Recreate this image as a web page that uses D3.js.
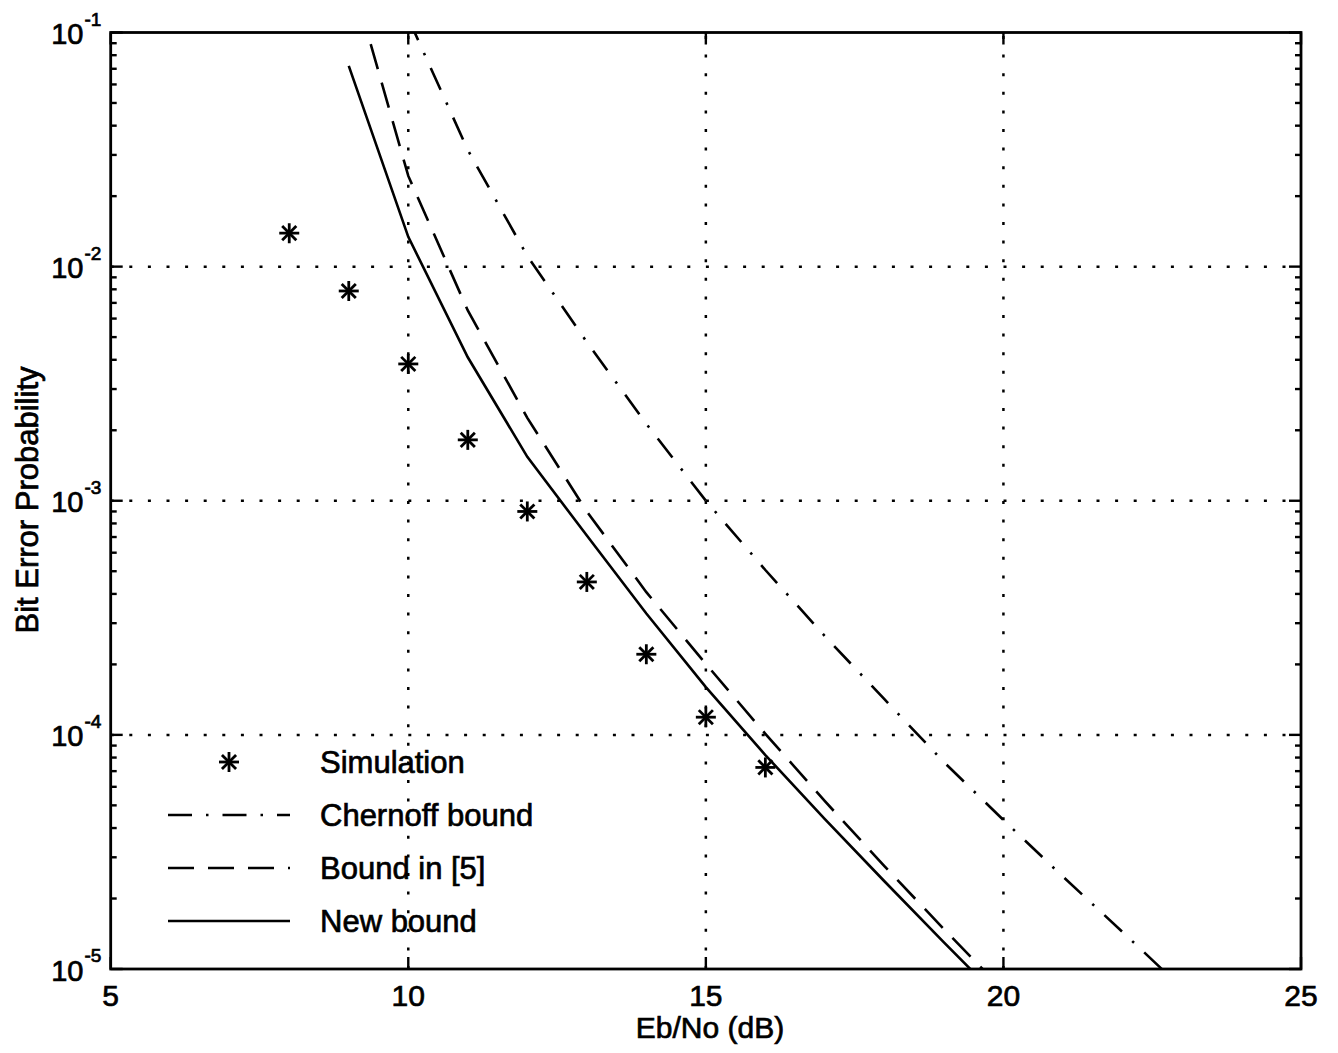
<!DOCTYPE html>
<html>
<head>
<meta charset="utf-8">
<script src="https://cdn.jsdelivr.net/npm/d3@7"></script>
<style>
  html, body { margin: 0; padding: 0; background: #fff; }
  svg { display: block; font-family: "Liberation Sans", Arial, Helvetica, sans-serif; }
  text { stroke: #000; stroke-width: 0.7px; }
</style>
</head>
<body>
<svg id="chart" width="1338" height="1053"></svg>
<script>
// Eb/No sample points (dB)
const simEbNo = [8, 9, 10, 11, 12, 13, 14, 15, 16];
const boundEbNo = [9, 10, 11, 12, 13, 14, 15, 16, 17, 18, 19, 20];
const chernoffEbNo = [10, 11, 12, 13, 14, 15, 16, 17, 18, 19, 20, 21, 22, 23];

// Bit error probabilities
const simulationBER = [1.39e-2, 7.87e-3, 3.84e-3, 1.82e-3, 9.0e-4, 4.5e-4, 2.21e-4, 1.19e-4, 7.26e-5];
const newBoundBER = [7.2e-2, 1.34e-2, 4.1e-3, 1.54e-3, 7.1e-4, 3.3e-4, 1.6e-4, 8.2e-5, 4.37e-5, 2.37e-5, 1.30e-5, 7.2e-6];
const bound5BER = [1.9e-1, 2.44e-2, 6.5e-3, 2.26e-3, 9.0e-4, 4.07e-4, 2.01e-4, 1.01e-4, 5.21e-5, 2.75e-5, 1.48e-5, 8.1e-6];
const chernoffBER = [1.15e-1, 3.15e-2, 1.11e-2, 4.76e-3, 2.13e-3, 1.0e-3, 5.06e-4, 2.64e-4, 1.42e-4, 7.65e-5, 4.33e-5, 2.48e-5, 1.44e-5, 8.3e-6];

// Axis ticks
const xTicks = [5, 10, 15, 20, 25];
const xGrid = [10, 15, 20];
const yExponents = [-1, -2, -3, -4, -5];
const yGridExponents = [-2, -3, -4];

// Legend entries
const legendLabels = ["Simulation", "Chernoff bound", "Bound in [5]", "New bound"];

const svg = d3.select("#chart");
const plotLeft = 110.7, plotRight = 1301, plotTop = 32.5, plotBottom = 969;

const x = d3.scaleLinear().domain([5, 25]).range([plotLeft, plotRight]);
const y = d3.scaleLog().domain([1e-5, 1e-1]).range([plotBottom, plotTop]);

svg.append("defs").append("clipPath").attr("id", "plotClip")
  .append("rect").attr("x", plotLeft).attr("y", plotTop)
  .attr("width", plotRight - plotLeft).attr("height", plotBottom - plotTop);

// Dotted grid
const grid = svg.append("g").attr("stroke", "#000").attr("stroke-width", 2.5)
  .attr("stroke-dasharray", "3 15.6").attr("fill", "none");
grid.selectAll("line.v").data(xGrid).join("line").attr("class", "v")
  .attr("x1", d => x(d)).attr("x2", d => x(d))
  .attr("y1", plotBottom).attr("y2", plotTop);
grid.selectAll("line.h").data(yGridExponents).join("line").attr("class", "h")
  .attr("x1", plotLeft).attr("x2", plotRight)
  .attr("y1", d => y(Math.pow(10, d))).attr("y2", d => y(Math.pow(10, d)));

// Curves
const plot = svg.append("g").attr("clip-path", "url(#plotClip)");
const lineGen = d3.line().x(d => x(d[0])).y(d => y(d[1]));

const curves = [
  { xs: chernoffEbNo, ys: chernoffBER, dash: "24 14 2.5 14" },
  { xs: boundEbNo, ys: bound5BER, dash: "26 14" },
  { xs: boundEbNo, ys: newBoundBER, dash: null }
];
curves.forEach(c => {
  plot.append("path")
    .datum(d3.zip(c.xs, c.ys))
    .attr("d", lineGen)
    .attr("fill", "none")
    .attr("stroke", "#000")
    .attr("stroke-width", 2.6)
    .attr("stroke-dasharray", c.dash);
});

// Asterisk marker
function asterisk(g, cx, cy, r) {
  const k = r * Math.SQRT1_2;
  const segs = [[-r, 0, r, 0], [0, -r, 0, r], [-k, -k, k, k], [-k, k, k, -k]];
  segs.forEach(s => {
    g.append("line")
      .attr("x1", cx + s[0]).attr("y1", cy + s[1])
      .attr("x2", cx + s[2]).attr("y2", cy + s[3])
      .attr("stroke", "#000").attr("stroke-width", 2.8);
  });
}
const simG = plot.append("g");
d3.zip(simEbNo, simulationBER).forEach(p => asterisk(simG, x(p[0]), y(p[1]), 10));

// Frame and inward ticks
const axes = svg.append("g").attr("stroke", "#000").attr("fill", "none");
axes.append("rect").attr("x", plotLeft).attr("y", plotTop)
  .attr("width", plotRight - plotLeft).attr("height", plotBottom - plotTop)
  .attr("stroke-width", 2.8);

const majorLen = 12, minorLen = 6;
xTicks.forEach(t => {
  axes.append("line").attr("x1", x(t)).attr("x2", x(t))
    .attr("y1", plotBottom).attr("y2", plotBottom - majorLen).attr("stroke-width", 2.4);
  axes.append("line").attr("x1", x(t)).attr("x2", x(t))
    .attr("y1", plotTop).attr("y2", plotTop + majorLen).attr("stroke-width", 2.4);
});
const yMinor = [];
yExponents.forEach(e => {
  if (e === -1) return;
  for (let m = 2; m <= 9; m++) yMinor.push(m * Math.pow(10, e));
});
yExponents.forEach(e => {
  const v = Math.pow(10, e);
  axes.append("line").attr("x1", plotLeft).attr("x2", plotLeft + majorLen)
    .attr("y1", y(v)).attr("y2", y(v)).attr("stroke-width", 2.4);
  axes.append("line").attr("x1", plotRight).attr("x2", plotRight - majorLen)
    .attr("y1", y(v)).attr("y2", y(v)).attr("stroke-width", 2.4);
});
yMinor.forEach(v => {
  axes.append("line").attr("x1", plotLeft).attr("x2", plotLeft + minorLen)
    .attr("y1", y(v)).attr("y2", y(v)).attr("stroke-width", 2.4);
  axes.append("line").attr("x1", plotRight).attr("x2", plotRight - minorLen)
    .attr("y1", y(v)).attr("y2", y(v)).attr("stroke-width", 2.4);
});

// Tick labels
const labels = svg.append("g").attr("fill", "#000");
labels.selectAll("text.xt").data(xTicks).join("text").attr("class", "xt")
  .attr("x", d => x(d)).attr("y", 1006)
  .attr("text-anchor", "middle").attr("font-size", 30)
  .text(d => d);
yExponents.forEach(e => {
  const yy = y(Math.pow(10, e));
  labels.append("text").attr("x", 83.5).attr("y", yy + 11.5)
    .attr("text-anchor", "end").attr("font-size", 29).text("10");
  labels.append("text").attr("x", 84.5).attr("y", yy - 7)
    .attr("text-anchor", "start").attr("font-size", 19).text(String(e));
});

// Axis titles
labels.append("text").attr("x", 710).attr("y", 1038)
  .attr("text-anchor", "middle").attr("font-size", 30).text("Eb/No (dB)");
labels.append("text")
  .attr("transform", "translate(38,500) rotate(-90)")
  .attr("text-anchor", "middle").attr("font-size", 31).text("Bit Error Probability");

// Legend
const legend = svg.append("g");
const legendRowY = [762, 815, 868, 921];
const legendDash = [null, "24 14 2.5 14", "26 14", null];
legendLabels.forEach((lab, i) => {
  const yy = legendRowY[i];
  if (i === 0) {
    asterisk(legend, 229, yy, 10);
  } else {
    legend.append("line").attr("x1", 168).attr("x2", 290)
      .attr("y1", yy).attr("y2", yy)
      .attr("stroke", "#000").attr("stroke-width", 2.6)
      .attr("stroke-dasharray", legendDash[i]);
  }
  legend.append("text").attr("x", 320).attr("y", yy + 11)
    .attr("font-size", 31).attr("fill", "#000").text(lab);
});
</script>
</body>
</html>
